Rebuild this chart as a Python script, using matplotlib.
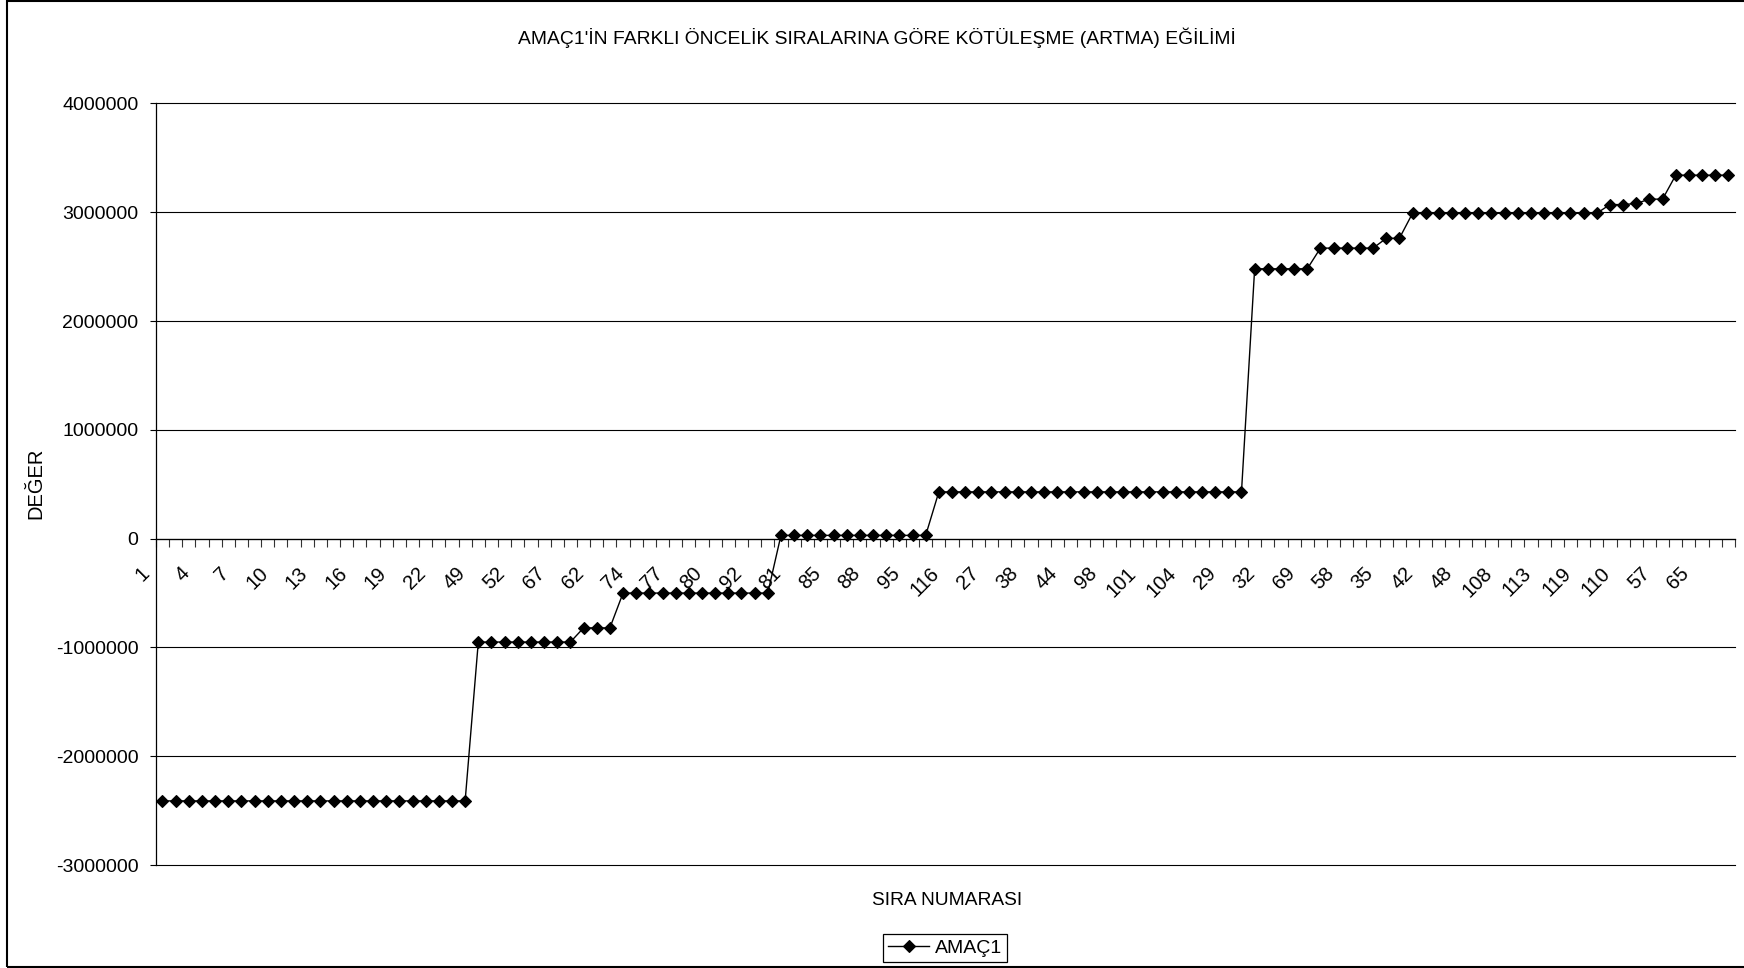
import numpy as np
import matplotlib
matplotlib.use("Agg")
import matplotlib.pyplot as plt
from matplotlib.patches import Rectangle
from matplotlib.ticker import FuncFormatter
from matplotlib.transforms import ScaledTranslation

plt.rcParams['font.family'] = ['Liberation Sans', 'DejaVu Sans']

# values of AMAC1 for the 120 priority orders
values = [
    -2410000, -2410000, -2410000, -2410000, -2410000, -2410000, -2410000, -2410000, -2410000, -2410000, -2410000, -2410000,
    -2410000, -2410000, -2410000, -2410000, -2410000, -2410000, -2410000, -2410000, -2410000, -2410000, -2410000, -2410000,
    -950000, -950000, -950000, -950000, -950000, -950000, -950000, -950000, -820000, -820000, -820000, -500000,
    -500000, -500000, -500000, -500000, -500000, -500000, -500000, -500000, -500000, -500000, -500000, 30000,
    30000, 30000, 30000, 30000, 30000, 30000, 30000, 30000, 30000, 30000, 30000, 430000,
    430000, 430000, 430000, 430000, 430000, 430000, 430000, 430000, 430000, 430000, 430000, 430000,
    430000, 430000, 430000, 430000, 430000, 430000, 430000, 430000, 430000, 430000, 430000, 2480000,
    2480000, 2480000, 2480000, 2480000, 2670000, 2670000, 2670000, 2670000, 2670000, 2760000, 2760000, 2990000,
    2990000, 2990000, 2990000, 2990000, 2990000, 2990000, 2990000, 2990000, 2990000, 2990000, 2990000, 2990000,
    2990000, 2990000, 3070000, 3070000, 3080000, 3120000, 3120000, 3340000, 3340000, 3340000, 3340000, 3340000,
]

# only every third category label is visible on the chart
shown_labels = ['1', '4', '7', '10', '13', '16', '19', '22', '49', '52', '67', '62',
                '74', '77', '80', '92', '81', '85', '88', '95', '116', '27', '38', '44',
                '98', '101', '104', '29', '32', '69', '58', '35', '42', '48', '108', '113',
                '119', '110', '57', '65']

title = "AMAÇ1'İN FARKLI ÖNCELİK SIRALARINA GÖRE KÖTÜLEŞME (ARTMA) EĞİLİMİ"
series_name = 'AMAÇ1'

fig = plt.figure(figsize=(17.44, 9.68), dpi=100)
ax = fig.add_axes([0.0894, 0.1063, 0.9054, 0.7869])

x = np.arange(len(values))
ax.plot(x, values, color='black', lw=1, marker='D', ms=6.3, mfc='black',
        mec='black', mew=0.8, label=series_name, zorder=3)

ax.set_xlim(-0.5, len(values) - 0.5)
ax.set_ylim(-3000000, 4000000)
ax.set_yticks(np.arange(-3000000, 4000001, 1000000))
ax.yaxis.set_major_formatter(FuncFormatter(lambda v, _: f"{int(v)}"))
ax.grid(axis='y', color='black', lw=0.8)
ax.set_axisbelow(True)
for gl in ax.get_ygridlines():
    gl.set_clip_on(False)

for s in ['top', 'right']:
    ax.spines[s].set_visible(False)
ax.spines['bottom'].set_position(('data', 0))
ax.spines['left'].set_linewidth(0.9)
ax.spines['bottom'].set_linewidth(0.9)

ax.tick_params(axis='y', direction='out', length=4.5, width=0.8, labelsize=14, pad=8)

# tick marks between categories, labels on every third category
ax.set_xticks(np.arange(-0.5, len(values), 1), minor=True)
ax.set_xticks(x[::3])
ax.set_xticklabels(shown_labels, rotation=45, ha='right', va='top', fontsize=14.5)
ax.tick_params(axis='x', which='minor', direction='out', length=5.8, width=0.8, color='#333333')
ax.tick_params(axis='x', which='major', length=0, pad=18)
shift = ScaledTranslation(-9 / 100, 0, fig.dpi_scale_trans)
for lbl in ax.get_xticklabels():
    lbl.set_transform(lbl.get_transform() + shift)

fig.text(0.503, 0.961, title, ha='center', va='center', fontsize=13.9)
fig.text(0.543, 0.0702, 'SIRA NUMARASI', ha='center', va='center', fontsize=13.8)
fig.text(0.0206, 0.501, 'DEĞER', ha='center', va='center', rotation=90, fontsize=14.5)

leg = fig.legend(loc='center', bbox_to_anchor=(0.542, 0.0205), fontsize=14,
                 frameon=True, fancybox=False, edgecolor='black', framealpha=1,
                 handlelength=2.1, handletextpad=0.3, borderpad=0.25, borderaxespad=0)
leg.get_frame().set_linewidth(0.9)

fig.patches.append(Rectangle((7 / 1744, 0.0013), 1.0, 0.9972, transform=fig.transFigure,
                             fill=False, ec='black', lw=1.5))

fig.savefig('out.png', dpi=100)
